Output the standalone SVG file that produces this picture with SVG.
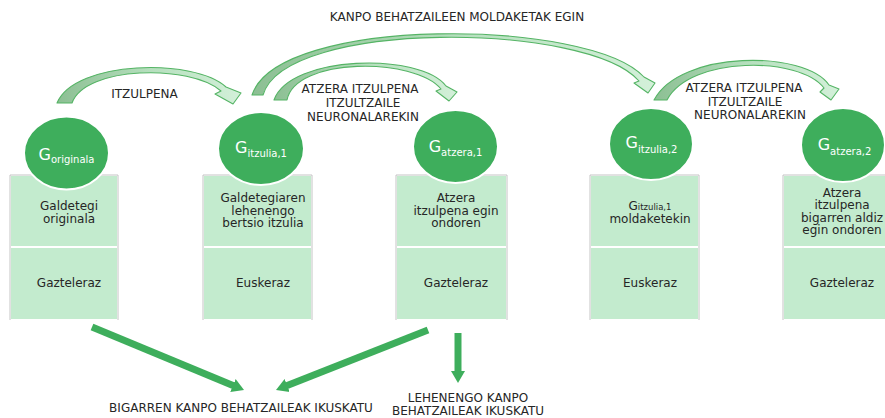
<svg xmlns="http://www.w3.org/2000/svg" width="885" height="418" viewBox="0 0 885 418">
<style>
text{font-family:"DejaVu Sans",Verdana,sans-serif;fill:#262626}
.lbl{font-size:12px;text-anchor:middle}
.cell{font-size:12px;text-anchor:middle}
.ctext{fill:#fff;text-anchor:middle}
.frame{fill:none;stroke:#c4c4c4;stroke-width:1}
.cellbg{fill:#c3ebce}
.node{fill:#3eae5c;stroke:#fff;stroke-width:2}
.curve{fill:url(#cg);stroke:#55b465;stroke-width:1.1;stroke-linejoin:round}
.straight{stroke:#3eae5c;stroke-width:7;fill:none}
</style>
<defs>
<linearGradient id="cg" x1="0" y1="0" x2="1" y2="0">
<stop offset="0" stop-color="#8cbf93"/>
<stop offset="0.5" stop-color="#b5dfbd"/>
<stop offset="1" stop-color="#d3f0d9"/>
</linearGradient>
<marker id="ah" markerUnits="userSpaceOnUse" markerWidth="14" markerHeight="16" refX="2" refY="8" orient="auto">
<path d="M0,1 L12,8 L0,15 z" fill="#3eae5c"/>
</marker>
</defs>

<g id="table1">
<path class="frame" d="M10,320 V175 H118 V320"/>
<rect class="cellbg" x="11" y="176" width="106" height="70"/>
<rect class="cellbg" x="11" y="248" width="106" height="71"/>
<text class="cell" x="69" y="210">Galdetegi</text>
<text class="cell" x="69" y="222.5">originala</text>
<text class="cell" x="69" y="287">Gazteleraz</text>
</g>
<g id="table2">
<path class="frame" d="M203,320 V175 H312 V320"/>
<rect class="cellbg" x="204" y="176" width="107" height="70"/>
<rect class="cellbg" x="204" y="248" width="107" height="71"/>
<text class="cell" x="263" y="202">Galdetegiaren</text>
<text class="cell" x="263" y="214.5">lehenengo</text>
<text class="cell" x="263" y="227">bertsio itzulia</text>
<text class="cell" x="263" y="287">Euskeraz</text>
</g>
<g id="table3">
<path class="frame" d="M396,320 V175 H507 V320"/>
<rect class="cellbg" x="397" y="176" width="109" height="70"/>
<rect class="cellbg" x="397" y="248" width="109" height="71"/>
<text class="cell" x="456" y="202">Atzera</text>
<text class="cell" x="456" y="214.5">itzulpena egin</text>
<text class="cell" x="456" y="227">ondoren</text>
<text class="cell" x="456" y="287">Gazteleraz</text>
</g>
<g id="table4">
<path class="frame" d="M590,320 V175 H699 V320"/>
<rect class="cellbg" x="591" y="176" width="107" height="70"/>
<rect class="cellbg" x="591" y="248" width="107" height="71"/>
<text class="cell" x="650" y="210"><tspan font-size="12">G</tspan><tspan font-size="8.5">itzulia,1</tspan></text>
<text class="cell" x="650" y="223">moldaketekin</text>
<text class="cell" x="650" y="287">Euskeraz</text>
</g>
<g id="table5">
<path class="frame" d="M783,320 V175 H892 V320"/>
<rect class="cellbg" x="784" y="176" width="107" height="70"/>
<rect class="cellbg" x="784" y="248" width="107" height="71"/>
<text class="cell" x="842" y="196.5">Atzera</text>
<text class="cell" x="842" y="209">itzulpena</text>
<text class="cell" x="842" y="221.5">bigarren aldiz</text>
<text class="cell" x="842" y="234">egin ondoren</text>
<text class="cell" x="842" y="287">Gazteleraz</text>
</g>

<g id="n-originala">
<ellipse class="node" cx="66.5" cy="153" rx="42.5" ry="36.5"/>
<text class="ctext" x="66.5" y="160"><tspan font-size="16">G</tspan><tspan font-size="10" dy="3">originala</tspan></text>
</g>
<g id="n-itzulia1">
<ellipse class="node" cx="261" cy="148.5" rx="43" ry="36.5"/>
<text class="ctext" x="261" y="153"><tspan font-size="16">G</tspan><tspan font-size="10" dy="4">itzulia,1</tspan></text>
</g>
<g id="n-atzera1">
<ellipse class="node" cx="455.5" cy="146.5" rx="42.5" ry="36.5"/>
<text class="ctext" x="455.5" y="152"><tspan font-size="16">G</tspan><tspan font-size="10" dy="4">atzera,1</tspan></text>
</g>
<g id="n-itzulia2">
<ellipse class="node" cx="651" cy="144" rx="42" ry="36"/>
<text class="ctext" x="651.5" y="148"><tspan font-size="16">G</tspan><tspan font-size="10" dy="5">itzulia,2</tspan></text>
</g>
<g id="n-atzera2">
<ellipse class="node" cx="843" cy="145" rx="42" ry="37"/>
<text class="ctext" x="844.5" y="150"><tspan font-size="16">G</tspan><tspan font-size="10" dy="5">atzera,2</tspan></text>
</g>

<g id="connectors">
<path class="curve" d="M57,103 C75,60 195,58 226,87 L241,93 L233,104 L215,94 L221,91 C190,64 85,66 72,103 Z"/>
<path class="curve" d="M252,95 C278,15 590,18 644,77 L655,83 L648,93 L634,83 L639,81 C588,22 285,19 263,95 Z"/>
<path class="curve" d="M274,100 C290,55 420,52 446,86 L457,92 L449,101 L436,91 L441,89 C415,57 295,57 287,100 Z"/>
<path class="curve" d="M654,100 C680,50 805,50 829,85 L839,89 L831,100 L820,92 L824,88 C800,56 690,56 667,100 Z"/>
<line class="straight" x1="92" y1="327" x2="234.8" y2="386.2" marker-end="url(#ah)"/>
<line class="straight" x1="428" y1="330" x2="285.3" y2="386.3" marker-end="url(#ah)"/>
<line class="straight" x1="458" y1="333" x2="458" y2="373" marker-end="url(#ah)"/>
</g>

<g id="labels">
<text class="lbl" x="457" y="21">KANPO BEHATZAILEEN MOLDAKETAK EGIN</text>
<text class="lbl" x="144.5" y="98">ITZULPENA</text>
<text class="lbl" x="360" y="93">ATZERA ITZULPENA</text>
<text class="lbl" x="363" y="107">ITZULTZAILE</text>
<text class="lbl" x="363" y="121">NEURONALAREKIN</text>
<text class="lbl" x="744" y="92">ATZERA ITZULPENA</text>
<text class="lbl" x="745" y="105.5">ITZULTZAILE</text>
<text class="lbl" x="750" y="119">NEURONALAREKIN</text>
<text class="lbl" x="241" y="412">BIGARREN KANPO BEHATZAILEAK IKUSKATU</text>
<text class="lbl" x="468" y="402">LEHENENGO KANPO</text>
<text class="lbl" x="468" y="415">BEHATZAILEAK IKUSKATU</text>
</g>
</svg>
